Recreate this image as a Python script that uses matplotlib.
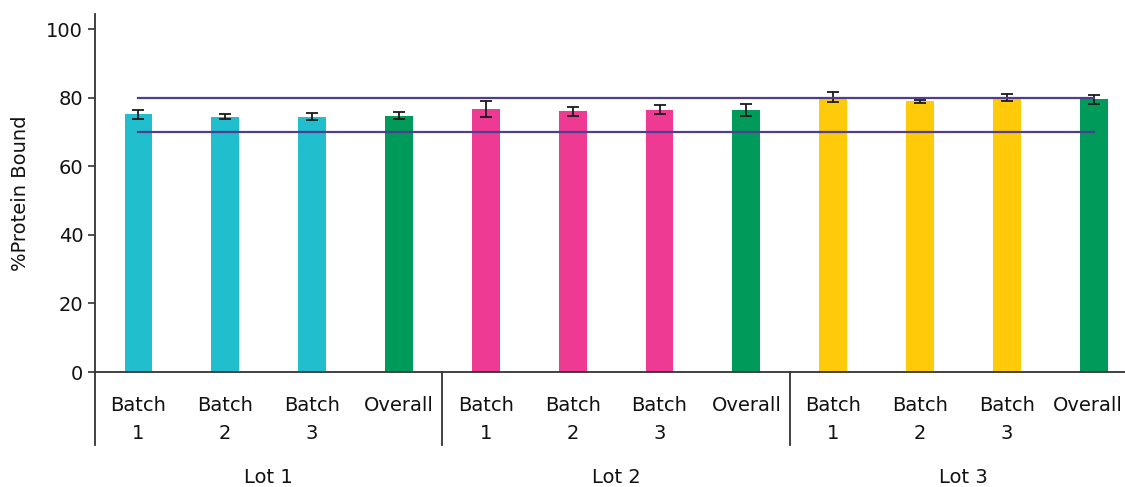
import matplotlib.pyplot as plt
from matplotlib.transforms import blended_transform_factory, ScaledTranslation

# data
lots = ["Lot 1", "Lot 2", "Lot 3"]
groups = ["Batch\n1", "Batch\n2", "Batch\n3", "Overall"]
lot1_vals = [75.2, 74.4, 74.5, 74.7]
lot1_err = [1.3, 0.7, 1.1, 1.0]
lot2_vals = [76.7, 76.1, 76.5, 76.4]
lot2_err = [2.4, 1.3, 1.3, 1.7]
lot3_vals = [80.1, 78.9, 80.1, 79.6]
lot3_err = [1.5, 0.5, 1.1, 1.3]
upper_limit = 80
lower_limit = 70

lot_colors = ["#21BFCE", "#EE3A93", "#FFCA09"]
overall_color = "#009A5B"
line_color = "#4E3D91"
axis_color = "#333333"

plt.rcParams['font.family'] = ['DejaVu Sans']

fig = plt.figure(figsize=(11.25, 4.87), dpi=100)
ax = fig.add_axes([95 / 1125, 115 / 487, 1 - 95 / 1125, 358 / 487])

vals = lot1_vals + lot2_vals + lot3_vals
errs = lot1_err + lot2_err + lot3_err
xs = list(range(len(vals)))
colors = []
for c in lot_colors:
    colors += [c, c, c, overall_color]

ax.bar(xs, vals, width=0.32, color=colors, zorder=2)
ax.errorbar(xs, vals, yerr=errs, fmt="none", ecolor="#1a1a1a",
            elinewidth=1.3, capsize=4.5, capthick=1.3, zorder=3)

ax.plot([xs[0], xs[-1]], [upper_limit, upper_limit], color=line_color, lw=1.6, zorder=4)
ax.plot([xs[0], xs[-1]], [lower_limit, lower_limit], color=line_color, lw=1.6, zorder=4)

ax.set_xlim(-0.5, 11.36)
ax.set_ylim(0, 104.4)
ax.set_yticks([0, 20, 40, 60, 80, 100])
ax.set_xticks(xs)
ax.set_xticklabels(groups * 3, fontsize=14, linespacing=1.6)
ax.tick_params(axis="x", length=0, pad=17, colors="#111111")
ax.tick_params(axis="y", labelsize=14, length=5, width=1.2, color=axis_color, labelcolor="#111111")
ax.set_ylabel("%Protein Bound", fontsize=14, color="#111111", labelpad=12)

# last label is nudged left so it fits inside the figure
last = ax.get_xticklabels()[-1]
last.set_transform(last.get_transform() + ScaledTranslation(-6 / 100, 0, fig.dpi_scale_trans))

for s in ["top", "right"]:
    ax.spines[s].set_visible(False)
for s in ["left", "bottom"]:
    ax.spines[s].set_color(axis_color)
    ax.spines[s].set_linewidth(1.3)

# group separators and lot labels below the axis
trans = blended_transform_factory(ax.transData, ax.transAxes)
for i in range(len(lots)):
    ax.plot([i * 4 - 0.5, i * 4 - 0.5], [0, -0.205], color=axis_color, lw=1.3,
            transform=trans, clip_on=False)
    ax.text(i * 4 + 1.5, -0.295, lots[i], transform=trans, ha="center", va="center",
            fontsize=14, color="#111111")

fig.savefig("out.png", dpi=100)
